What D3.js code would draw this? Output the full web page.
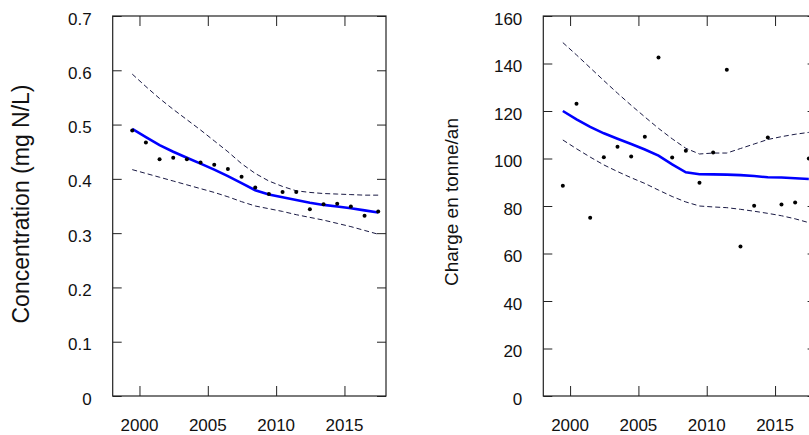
<!DOCTYPE html>
<html>
<head>
<meta charset="utf-8">
<script src="https://cdn.jsdelivr.net/npm/d3@7"></script>
<style>
  body { margin: 0; background: #fff; }
  text { font-family: Arial, "Liberation Sans", sans-serif; fill: #111; }
</style>
</head>
<body>
<div id="chart"></div>
<script>
// years of the annual values (plotted at mid-year)
var years = [1999, 2000, 2001, 2002, 2003, 2004, 2005, 2006, 2007, 2008, 2009,
             2010, 2011, 2012, 2013, 2014, 2015, 2016, 2017];
var xTicks = [2000, 2005, 2010, 2015];

// left panel: concentration (mg N/L)
var concObs = [0.489, 0.467, 0.436, 0.439, 0.436, 0.430, 0.426, 0.418, 0.404, 0.384,
               0.372, 0.376, 0.376, 0.344, 0.353, 0.354, 0.349, 0.332, 0.340];
var concTrend = [0.492, 0.477, 0.462, 0.450, 0.439, 0.428, 0.417, 0.405, 0.392, 0.379,
                 0.371, 0.366, 0.361, 0.356, 0.352, 0.349, 0.346, 0.342, 0.338];
var concUpper = [0.593, 0.570, 0.548, 0.528, 0.509, 0.490, 0.470, 0.450, 0.428, 0.410,
                 0.396, 0.386, 0.378, 0.375, 0.373, 0.372, 0.371, 0.370, 0.370];
var concLower = [0.417, 0.410, 0.403, 0.396, 0.389, 0.382, 0.375, 0.367, 0.358, 0.350,
                 0.345, 0.340, 0.334, 0.329, 0.324, 0.318, 0.312, 0.305, 0.298];
var concTicks = [0, 0.1, 0.2, 0.3, 0.4, 0.5, 0.6, 0.7];

// right panel: load (tonne/an)
var fluxObs = [88.5, 123.1, 75.1, 100.5, 105.0, 100.8, 109.2, 142.5, 100.4, 103.3,
               89.8, 102.5, 137.4, 62.9, 80.1, 108.8, 80.6, 81.5, 100.0];
var fluxTrend = [120.0, 116.5, 113.3, 110.6, 108.3, 106.1, 103.8, 101.2, 97.5, 94.2,
                 93.4, 93.3, 93.2, 93.0, 92.6, 92.1, 92.0, 91.7, 91.4];
var fluxUpper = [148.8, 143.6, 138.2, 132.8, 127.5, 122.4, 117.5, 112.7, 108.3, 104.3,
                 101.9, 102.3, 102.3, 104.2, 106.1, 108.0, 109.2, 110.2, 111.0];
var fluxLower = [107.8, 104.1, 100.6, 97.3, 94.5, 91.9, 89.5, 86.7, 84.0, 81.7,
                 80.0, 79.6, 79.3, 78.6, 77.8, 76.9, 75.9, 74.6, 73.0];
var fluxTicks = [0, 20, 40, 60, 80, 100, 120, 140, 160];

var width = 809, height = 435;
var svg = d3.select("#chart").append("svg")
    .attr("width", width)
    .attr("height", height);

svg.append("rect").attr("width", width).attr("height", height).attr("fill", "#fff");

function drawPanel(opt) {
    var x = d3.scaleLinear().domain([1998.04, 2018.04]).range([opt.left, opt.left + 273.3]);
    var y = d3.scaleLinear().domain([0, opt.ymax]).range([396, 16]);

    var g = svg.append("g");

    // inward ticks on all four sides
    g.append("g")
        .attr("transform", "translate(0,396)")
        .call(d3.axisTop(x).tickValues(xTicks).tickSize(10).tickFormat(""));
    g.append("g")
        .attr("transform", "translate(0,16)")
        .call(d3.axisBottom(x).tickValues(xTicks).tickSize(10).tickFormat(""));
    g.append("g")
        .attr("transform", "translate(" + opt.left + ",0)")
        .call(d3.axisRight(y).tickValues(opt.yTicks).tickSize(9).tickFormat(""));
    g.append("g")
        .attr("transform", "translate(" + x.range()[1] + ",0)")
        .call(d3.axisLeft(y).tickValues(opt.yTicks).tickSize(9).tickFormat(""));
    g.selectAll(".domain").remove();
    g.selectAll(".tick line").attr("stroke", "#222");

    // frame
    g.append("rect")
        .attr("x", x.range()[0]).attr("y", 16)
        .attr("width", x.range()[1] - x.range()[0]).attr("height", 380)
        .attr("fill", "none").attr("stroke", "#222").attr("stroke-width", 1.2);

    // tick labels
    g.selectAll(".xlab")
        .data(xTicks)
        .enter().append("text")
        .attr("x", d => x(d))
        .attr("y", 430.5)
        .attr("text-anchor", "middle")
        .style("font-size", "17px")
        .text(d => d);
    g.selectAll(".ylab")
        .data(opt.yTicks)
        .enter().append("text")
        .attr("x", opt.left - 21)
        .attr("y", d => y(d))
        .attr("dy", "0.5em")
        .attr("text-anchor", "end")
        .style("font-size", "17px")
        .text(d => d);

    // axis title
    g.append("text")
        .attr("transform", "translate(" + opt.titleX + "," + opt.titleY + ") rotate(-90)")
        .attr("text-anchor", "middle")
        .style("font-size", opt.titleSize)
        .text(opt.title);

    var xs = years.map(d => d + 0.47);
    var line = d3.line().x((d, i) => x(xs[i])).y(d => y(d));

    [opt.upper, opt.lower].forEach(function(band) {
        g.append("path")
            .datum(band)
            .attr("d", line)
            .attr("fill", "none")
            .attr("stroke", "#1a1a44")
            .attr("stroke-width", 1)
            .attr("stroke-dasharray", "5,3");
    });

    g.append("path")
        .datum(opt.trend)
        .attr("d", line)
        .attr("fill", "none")
        .attr("stroke", "#0000ff")
        .attr("stroke-width", 2.6);

    g.selectAll(".dot")
        .data(opt.obs)
        .enter().append("circle")
        .attr("cx", (d, i) => x(xs[i]))
        .attr("cy", d => y(d))
        .attr("r", 2)
        .attr("fill", "#000");
}

drawPanel({
    left: 112.7, ymax: 0.7, yTicks: concTicks,
    obs: concObs, trend: concTrend, upper: concUpper, lower: concLower,
    title: "Concentration (mg N/L)", titleX: 28.5, titleY: 204, titleSize: "23px"
});

drawPanel({
    left: 543.3, ymax: 160, yTicks: fluxTicks,
    obs: fluxObs, trend: fluxTrend, upper: fluxUpper, lower: fluxLower,
    title: "Charge en tonne/an", titleX: 458, titleY: 202, titleSize: "19px"
});
</script>
</body>
</html>
